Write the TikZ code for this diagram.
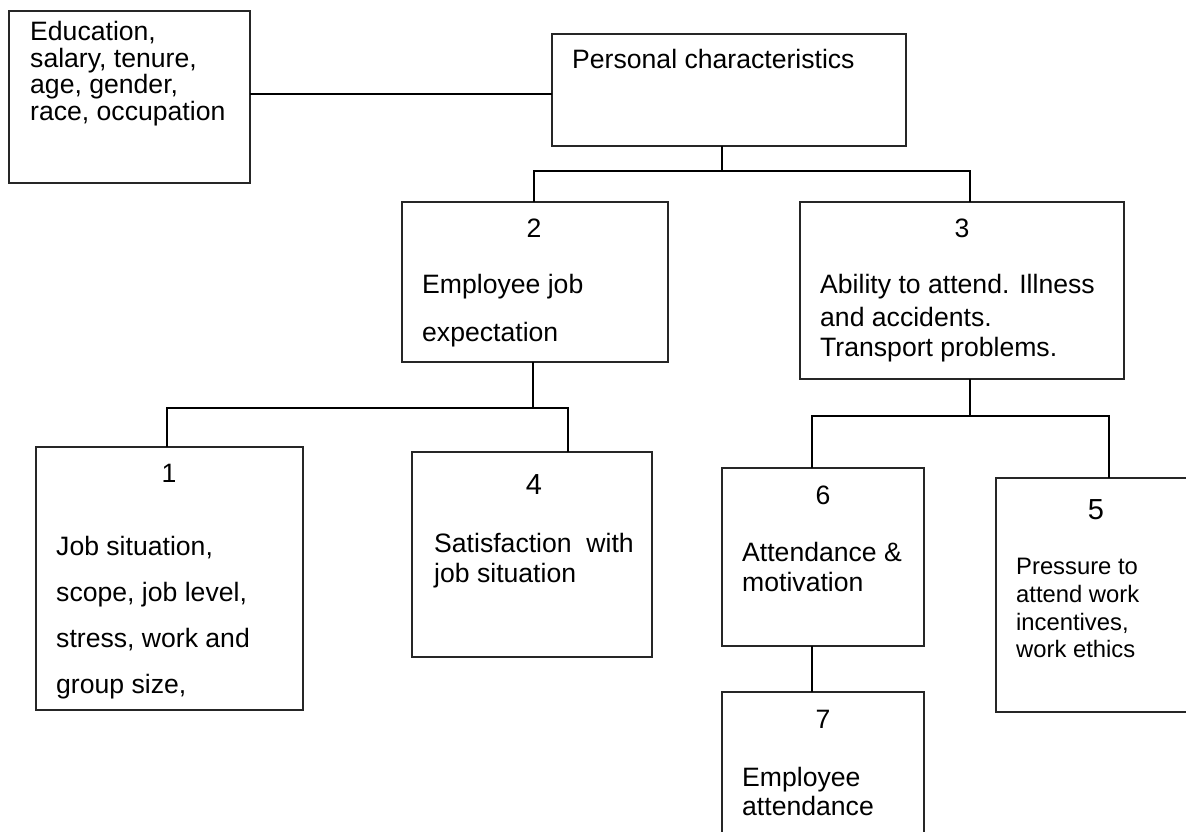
\documentclass[tikz,border=0pt]{standalone}
\usepackage{fontspec}
\setmainfont{Liberation Sans}
\begin{document}
\begin{tikzpicture}[x=1pt,y=-1pt,
  box/.style={draw=black!85, line width=1.3pt, inner sep=0pt, outer sep=0pt, anchor=north west},
  conn/.style={line width=1.3pt},
  txt/.style={anchor=base west, inner sep=0pt, font=\fontsize{26.6}{31}\selectfont},
  smalltxt/.style={anchor=base west, inner sep=0pt, font=\fontsize{23.8}{28}\selectfont},
  num/.style={anchor=base, inner sep=0pt, font=\fontsize{26.6}{31}\selectfont},
  bignum/.style={anchor=base, inner sep=0pt, font=\fontsize{29}{34}\selectfont}]
\useasboundingbox (0,0) rectangle (1186,831);
\clip (0,0) rectangle (1186,831);
\fill[white] (0,0) rectangle (1186,831);

% boxes
\node[box, minimum width=241pt, minimum height=172pt] (edu) at (9,11) {};
\node[box, minimum width=354pt, minimum height=112pt] (pc) at (552,34) {};
\node[box, minimum width=266pt, minimum height=160pt] (b2) at (402,202) {};
\node[box, minimum width=324pt, minimum height=177pt] (b3) at (800,202) {};
\node[box, minimum width=267pt, minimum height=263pt] (b1) at (36,447) {};
\node[box, minimum width=240pt, minimum height=205pt] (b4) at (412,452) {};
\node[box, minimum width=202pt, minimum height=178pt] (b6) at (722,468) {};
\node[box, minimum width=220pt, minimum height=234pt] (b5) at (996,478) {};
\node[box, minimum width=202pt, minimum height=160pt] (b7) at (722,692) {};

% junction coordinates
\coordinate (h0) at (400,94);
\coordinate (h1) at (722,171);
\coordinate (h1l) at (534,171);
\coordinate (h1r) at (970,171);
\coordinate (h2) at (533,408);
\coordinate (h2l) at (167,408);
\coordinate (h2r) at (568,408);
\coordinate (h3) at (970,416);
\coordinate (h3l) at (812,416);
\coordinate (h3r) at (1109,416);

% connectors
\draw[conn] (edu.east |- h0) -- (pc.west |- h0);
\draw[conn] (pc.south -| h1) -- (h1);
\draw[conn] (b2.north -| h1l) -- (h1l) -- (h1r) -- (b3.north -| h1r);
\draw[conn] (b2.south -| h2) -- (h2);
\draw[conn] (b1.north -| h2l) -- (h2l) -- (h2r) -- (b4.north -| h2r);
\draw[conn] (b3.south -| h3) -- (h3);
\draw[conn] (b6.north -| h3l) -- (h3l) -- (h3r) -- (b5.north -| h3r);
\draw[conn] (b6.south -| h3l) -- (b7.north -| h3l);

% texts
\node[txt] (e1) at (30,40) {Education,};
\node[txt] (e2) at (30,67) {salary, tenure,};
\node[txt] (e3) at (30,93) {age, gender,};
\node[txt] (e4) at (30,120) {race, occupation};

\node[txt] (p1) at (572,68) {Personal characteristics};

\node[num] (n2) at (534,237) {2};
\node[txt] (t2a) at (422,293) {Employee job};
\node[txt] (t2b) at (422,341) {expectation};

\node[num] (n3) at (962,237) {3};
\node[txt] (t3a) at (820,293) {Ability to attend. Illness};
\node[txt] (t3b) at (820,326) {and accidents.};
\node[txt] (t3c) at (820,356) {Transport problems.};

\node[num] (n1) at (169,482) {1};
\node[txt] (t1a) at (56,555) {Job situation,};
\node[txt] (t1b) at (56,601) {scope, job level,};
\node[txt] (t1c) at (56,647) {stress, work and};
\node[txt] (t1d) at (56,693) {group size,};

\node[bignum] (n4) at (534,494) {4};
\node[txt] (t4a) at (434,552) {Satisfaction\ \ with};
\node[txt] (t4b) at (434,582) {job situation};

\node[num] (n6) at (823,504) {6};
\node[txt] (t6a) at (742,561) {Attendance \&};
\node[txt] (t6b) at (742,591) {motivation};

\node[bignum] (n5) at (1096,519) {5};
\node[smalltxt] (t5a) at (1016,574) {Pressure to};
\node[smalltxt] (t5b) at (1016,602) {attend work};
\node[smalltxt] (t5c) at (1016,630) {incentives,};
\node[smalltxt] (t5d) at (1016,657) {work ethics};

\node[num] (n7) at (823,728) {7};
\node[txt] (t7a) at (742,786) {Employee};
\node[txt] (t7b) at (742,815) {attendance};
\end{tikzpicture}
\end{document}
